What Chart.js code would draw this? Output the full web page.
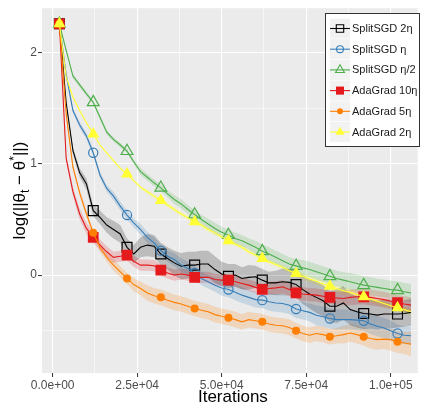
<!DOCTYPE html>
<html>
<head>
<meta charset="utf-8">
<script src="https://cdn.jsdelivr.net/npm/chart.js@4.4.1/dist/chart.umd.min.js"></script>
<style>
  html, body { margin: 0; padding: 0; background: #fff; }
  canvas { display: block; }
</style>
</head>
<body>
<canvas id="chart" width="426" height="404"></canvas>
<script>
// iteration grid (every 2000 iterations)
const iters = [
  2000, 4000, 6000, 8000, 10000, 12000, 14000, 16000, 18000, 20000,
  22000, 24000, 26000, 28000, 30000, 32000, 34000, 36000, 38000, 40000,
  42000, 44000, 46000, 48000, 50000, 52000, 54000, 56000, 58000, 60000,
  62000, 64000, 66000, 68000, 70000, 72000, 74000, 76000, 78000, 80000,
  82000, 84000, 86000, 88000, 90000, 92000, 94000, 96000, 98000, 100000,
  102000, 104000, 106000
];

// grid positions; labelled ones are the multiples of 25000 and the integers
const xTicks = [0, 12500, 25000, 37500, 50000, 62500, 75000, 87500, 100000];
const yTicks = [-0.5, 0, 0.5, 1, 1.5, 2];

const seriesNames = ['SplitSGD 2η', 'SplitSGD η', 'SplitSGD η/2', 'AdaGrad 10η', 'AdaGrad 5η', 'AdaGrad 2η'];

// mean log error per method
const splitSgd2 = [
  2.26, 1.55, 1.12, 0.92, 0.82, 0.58, 0.52, 0.45, 0.41, 0.37,
  0.25, 0.19, 0.25, 0.27, 0.26, 0.19, 0.15, 0.11, 0.08, 0.09,
  0.09, 0.10, 0.10, 0.05, 0.01, -0.01, 0.00, -0.03, -0.02, -0.015,
  -0.045, -0.07, -0.07, -0.06, -0.065, -0.085, -0.13, -0.17, -0.20, -0.23,
  -0.28, -0.28, -0.25, -0.31, -0.33, -0.345, -0.35, -0.36, -0.35, -0.35,
  -0.35, -0.345, -0.335
];
const splitSgd1 = [
  2.26, 1.80, 1.48, 1.35, 1.25, 1.10, 0.90, 0.78, 0.71, 0.62,
  0.54, 0.47, 0.41, 0.34, 0.29, 0.22, 0.17, 0.14, 0.09, 0.06,
  0.02, -0.03, -0.06, -0.09, -0.115, -0.13, -0.155, -0.18, -0.20, -0.22,
  -0.225, -0.24, -0.25, -0.255, -0.27, -0.305, -0.32, -0.335, -0.36, -0.375,
  -0.39, -0.40, -0.40, -0.40, -0.405, -0.41, -0.44, -0.46, -0.475, -0.50,
  -0.525, -0.54, -0.545
];
const splitSgdHalf = [
  2.26, 2.02, 1.79, 1.71, 1.63, 1.555, 1.42, 1.285, 1.22, 1.17,
  1.115, 1.02, 0.93, 0.88, 0.83, 0.785, 0.73, 0.68, 0.64, 0.59,
  0.545, 0.50, 0.46, 0.42, 0.385, 0.36, 0.33, 0.31, 0.28, 0.25,
  0.215, 0.19, 0.16, 0.13, 0.10, 0.083, 0.065, 0.05, 0.03, 0.01,
  -0.01, -0.03, -0.045, -0.06, -0.075, -0.09, -0.10, -0.11, -0.12, -0.13,
  -0.135, -0.15, -0.16
];
const adaGrad10 = [
  2.26, 1.05, 0.75, 0.55, 0.42, 0.34, 0.27, 0.21, 0.16, 0.17,
  0.18, 0.125, 0.09, 0.09, 0.085, 0.045, 0.02, 0.00, 0.01, 0.00,
  -0.02, -0.02, -0.02, -0.04, -0.045, -0.045, -0.06, -0.075, -0.09, -0.11,
  -0.128, -0.12, -0.115, -0.105, -0.13, -0.16, -0.17, -0.175, -0.18, -0.19,
  -0.20, -0.205, -0.21, -0.20, -0.195, -0.195, -0.20, -0.21, -0.22, -0.235,
  -0.248, -0.26, -0.27
];
const adaGrad5 = [
  2.26, 1.45, 0.97, 0.74, 0.55, 0.38, 0.25, 0.16, 0.09, 0.03,
  -0.03, -0.085, -0.12, -0.16, -0.185, -0.20, -0.225, -0.245, -0.26, -0.28,
  -0.30, -0.315, -0.33, -0.355, -0.37, -0.383, -0.40, -0.42, -0.40, -0.41,
  -0.42, -0.44, -0.45, -0.455, -0.47, -0.50, -0.525, -0.54, -0.525, -0.535,
  -0.553, -0.545, -0.535, -0.52, -0.535, -0.553, -0.57, -0.58, -0.575, -0.58,
  -0.60, -0.61, -0.62
];
const adaGrad2 = [
  2.26, 1.78, 1.60, 1.48, 1.37, 1.27, 1.17, 1.10, 1.03, 0.96,
  0.91, 0.85, 0.79, 0.75, 0.71, 0.67, 0.63, 0.59, 0.55, 0.515,
  0.48, 0.45, 0.41, 0.38, 0.345, 0.31, 0.28, 0.25, 0.21, 0.18,
  0.15, 0.12, 0.095, 0.07, 0.04, 0.015, -0.01, -0.035, -0.055, -0.08,
  -0.10, -0.12, -0.14, -0.155, -0.175, -0.195, -0.215, -0.235, -0.255, -0.275,
  -0.293, -0.31, -0.33
];

// half-width of the shaded band around each mean
const splitSgd2Band = [
  0.01, 0.02, 0.03, 0.04, 0.05, 0.05, 0.06, 0.07, 0.08, 0.08,
  0.08, 0.08, 0.09, 0.10, 0.10, 0.10, 0.10, 0.11, 0.12, 0.12,
  0.12, 0.12, 0.12, 0.12, 0.11, 0.11, 0.10, 0.10, 0.11, 0.10,
  0.10, 0.10, 0.11, 0.12, 0.12, 0.12, 0.13, 0.13, 0.14, 0.14,
  0.14, 0.15, 0.15, 0.14, 0.14, 0.14, 0.13, 0.13, 0.13, 0.13,
  0.12, 0.12, 0.12
];
const splitSgd1Band = [
  0.01, 0.02, 0.02, 0.03, 0.03, 0.03, 0.03, 0.03, 0.04, 0.04,
  0.04, 0.04, 0.05, 0.05, 0.05, 0.05, 0.05, 0.06, 0.06, 0.06,
  0.06, 0.06, 0.06, 0.06, 0.07, 0.07, 0.07, 0.07, 0.07, 0.07,
  0.07, 0.08, 0.08, 0.08, 0.08, 0.08, 0.08, 0.08, 0.09, 0.09,
  0.09, 0.09, 0.09, 0.09, 0.09, 0.09, 0.09, 0.09, 0.09, 0.09,
  0.08, 0.08, 0.08
];
const splitSgdHalfBand = [
  0.01, 0.01, 0.02, 0.02, 0.02, 0.02, 0.02, 0.02, 0.02, 0.02,
  0.02, 0.02, 0.03, 0.03, 0.03, 0.03, 0.03, 0.04, 0.04, 0.04,
  0.04, 0.04, 0.05, 0.05, 0.05, 0.05, 0.05, 0.05, 0.05, 0.06,
  0.06, 0.06, 0.06, 0.06, 0.06, 0.06, 0.07, 0.07, 0.07, 0.07,
  0.07, 0.07, 0.07, 0.08, 0.08, 0.08, 0.08, 0.08, 0.08, 0.08,
  0.08, 0.08, 0.08
];
const adaGrad10Band = [
  0.01, 0.03, 0.04, 0.05, 0.05, 0.05, 0.05, 0.05, 0.05, 0.05,
  0.05, 0.05, 0.05, 0.05, 0.05, 0.05, 0.05, 0.05, 0.05, 0.05,
  0.05, 0.05, 0.05, 0.05, 0.05, 0.05, 0.05, 0.05, 0.05, 0.05,
  0.05, 0.06, 0.06, 0.06, 0.06, 0.06, 0.06, 0.06, 0.06, 0.06,
  0.06, 0.06, 0.06, 0.07, 0.07, 0.07, 0.07, 0.07, 0.07, 0.07,
  0.07, 0.07, 0.07
];
const adaGrad5Band = [
  0.01, 0.02, 0.03, 0.03, 0.03, 0.03, 0.04, 0.04, 0.05, 0.05,
  0.05, 0.06, 0.06, 0.07, 0.07, 0.07, 0.07, 0.07, 0.07, 0.07,
  0.07, 0.07, 0.07, 0.07, 0.07, 0.07, 0.07, 0.07, 0.07, 0.07,
  0.07, 0.07, 0.07, 0.07, 0.07, 0.07, 0.07, 0.07, 0.07, 0.07,
  0.07, 0.07, 0.08, 0.08, 0.08, 0.08, 0.09, 0.09, 0.09, 0.10,
  0.10, 0.10, 0.11
];
const adaGrad2Band = [
  0.01, 0.01, 0.01, 0.01, 0.01, 0.01, 0.01, 0.01, 0.01, 0.01,
  0.01, 0.01, 0.01, 0.02, 0.02, 0.02, 0.02, 0.02, 0.02, 0.02,
  0.02, 0.02, 0.02, 0.02, 0.02, 0.02, 0.02, 0.02, 0.02, 0.02,
  0.02, 0.02, 0.02, 0.02, 0.02, 0.03, 0.03, 0.03, 0.03, 0.03,
  0.03, 0.03, 0.03, 0.03, 0.03, 0.03, 0.03, 0.03, 0.03, 0.03,
  0.03, 0.03, 0.03
];

const means = [splitSgd2, splitSgd1, splitSgdHalf, adaGrad10, adaGrad5, adaGrad2];
const bands = [splitSgd2Band, splitSgd1Band, splitSgdHalfBand, adaGrad10Band, adaGrad5Band, adaGrad2Band];

// look of each method
const colors = ['#000000', '#377EB8', '#4DAF4A', '#E41A1C', '#FF7F00', '#FFFF33'];
const bandColors = ['rgba(0,0,0,0.2)', 'rgba(55,126,184,0.2)', 'rgba(77,175,74,0.2)',
  'rgba(228,26,28,0.2)', 'rgba(255,127,0,0.2)', 'rgba(255,255,51,0.25)'];
const markers = [
  { style: 'rect', radius: 7, open: true },
  { style: 'circle', radius: 4.6, open: true },
  { style: 'triangle', radius: 6.8, open: true },
  { style: 'rect', radius: 7.6, open: false },
  { style: 'circle', radius: 4, open: false },
  { style: 'triangle', radius: 7, open: false }
];

const FONT = 'Liberation Sans, Arial, sans-serif';

const datasets = [];
means.forEach((m, k) => {
  const hw = bands[k];
  datasets.push({
    data: iters.map((x, i) => ({ x, y: m[i] + hw[i] })),
    fill: '+1', backgroundColor: bandColors[k],
    borderWidth: 0, pointRadius: 0, order: 50
  });
  datasets.push({
    data: iters.map((x, i) => ({ x, y: m[i] - hw[i] })),
    fill: false, borderWidth: 0, pointRadius: 0, order: 50
  });
});
means.forEach((m, k) => {
  const mk = markers[k];
  datasets.push({
    label: seriesNames[k],
    data: iters.map((x, i) => ({ x, y: m[i] })),
    borderColor: colors[k],
    borderWidth: 1.1,
    fill: false,
    tension: 0,
    pointStyle: mk.style,
    pointRadius: c => (c.dataIndex % 5 === 0 ? mk.radius : 0),
    pointBorderColor: colors[k],
    pointBackgroundColor: mk.open ? 'rgba(0,0,0,0)' : colors[k],
    pointBorderWidth: mk.open ? 1.2 : 0,
    order: 10 - k
  });
});

function sciLabel(v) {
  return v.toExponential(1).replace(/e([+-])(\d)$/, 'e$10$2');
}

// panel background, axis titles and the inset legend
const decorations = {
  id: 'decorations',
  beforeDraw(chart) {
    const { ctx, chartArea: a } = chart;
    ctx.save();
    ctx.fillStyle = '#EBEBEB';
    ctx.fillRect(a.left, a.top, a.right - a.left, a.bottom - a.top);
    ctx.restore();
  },
  afterDraw(chart) {
    const { ctx, chartArea: a } = chart;
    ctx.save();

    // x title
    ctx.fillStyle = '#000';
    ctx.font = '17px ' + FONT;
    ctx.textAlign = 'center';
    ctx.textBaseline = 'alphabetic';
    ctx.fillText('Iterations', (a.left + a.right) / 2 + 3, 401.5);

    // y title with subscript / superscript
    const parts = [
      { t: 'log(||θ', size: 17, dy: 0 },
      { t: 't', size: 12, dy: 4 },
      { t: ' − θ', size: 17, dy: 0 },
      { t: '*', size: 12, dy: -7 },
      { t: '||)', size: 17, dy: 0 }
    ];
    let total = 0;
    parts.forEach(p => { ctx.font = p.size + 'px ' + FONT; p.w = ctx.measureText(p.t).width; total += p.w; });
    ctx.translate(25, (a.top + a.bottom) / 2);
    ctx.rotate(-Math.PI / 2);
    ctx.textAlign = 'left';
    let px = -total / 2;
    parts.forEach(p => {
      ctx.font = p.size + 'px ' + FONT;
      ctx.fillText(p.t, px, p.dy);
      px += p.w;
    });
    ctx.setTransform(1, 0, 0, 1, 0, 0);

    // legend
    const lx = 325.5, ly = 13.5, lw = 94, lh = 133;
    ctx.fillStyle = '#FFFFFF';
    ctx.fillRect(lx, ly, lw, lh);
    ctx.strokeStyle = '#333333';
    ctx.lineWidth = 1;
    ctx.strokeRect(lx, ly, lw, lh);
    seriesNames.forEach((name, k) => {
      const top = 18.5 + k * 20.7;
      const cy = top + 10;
      ctx.fillStyle = '#F2F2F2';
      ctx.fillRect(330, top, 20, 20);
      ctx.strokeStyle = colors[k];
      ctx.lineWidth = 1.1;
      ctx.beginPath();
      ctx.moveTo(330, cy);
      ctx.lineTo(350, cy);
      ctx.stroke();
      const mk = markers[k];
      ctx.fillStyle = mk.open ? 'rgba(0,0,0,0)' : colors[k];
      Chart.helpers.drawPoint(ctx, {
        pointStyle: mk.style, radius: mk.radius * 0.75, rotation: 0,
        borderWidth: mk.open ? 1.2 : 0
      }, 340, cy);
      ctx.fillStyle = '#1A1A1A';
      ctx.font = '11px ' + FONT;
      ctx.textAlign = 'left';
      ctx.textBaseline = 'middle';
      ctx.fillText(name, 352, cy + 0.5);
    });
    ctx.restore();
  }
};

const isMajorX = c => c.tick && c.tick.value % 25000 === 0;
const isMajorY = c => c.tick && Number.isInteger(c.tick.value);

new Chart(document.getElementById('chart'), {
  type: 'line',
  data: { datasets },
  options: {
    responsive: false,
    devicePixelRatio: 1,
    animation: false,
    layout: { padding: { top: 7, right: 6, left: 0, bottom: 0 } },
    plugins: {
      legend: { display: false },
      tooltip: { enabled: false }
    },
    scales: {
      x: {
        type: 'linear',
        min: -3150,
        max: 108000,
        afterBuildTicks: s => { s.ticks = xTicks.map(v => ({ value: v })); },
        afterFit: s => { s.height = 31; s.paddingLeft = 0; s.paddingRight = 0; },
        ticks: {
          autoSkip: false,
          maxRotation: 0,
          padding: 1,
          color: '#4D4D4D',
          font: { family: FONT, size: 12 },
          callback: v => (v % 25000 === 0 ? sciLabel(v) : '')
        },
        grid: {
          color: '#FFFFFF',
          lineWidth: c => (isMajorX(c) ? 1.1 : 0.55),
          tickLength: 4,
          tickColor: c => (isMajorX(c) ? '#333333' : 'rgba(0,0,0,0)'),
          tickWidth: 1
        },
        border: { display: false }
      },
      y: {
        type: 'linear',
        min: -0.88,
        max: 2.40,
        afterBuildTicks: s => { s.ticks = yTicks.map(v => ({ value: v })); },
        afterFit: s => { s.width = 42; s.paddingTop = 0; s.paddingBottom = 0; },
        ticks: {
          padding: 1,
          color: '#4D4D4D',
          font: { family: FONT, size: 12 },
          callback: v => (Number.isInteger(v) ? String(v) : '')
        },
        grid: {
          color: '#FFFFFF',
          lineWidth: c => (isMajorY(c) ? 1.1 : 0.55),
          tickLength: 4,
          tickColor: c => (isMajorY(c) ? '#333333' : 'rgba(0,0,0,0)'),
          tickWidth: 1
        },
        border: { display: false }
      }
    }
  },
  plugins: [decorations]
});
</script>
</body>
</html>
